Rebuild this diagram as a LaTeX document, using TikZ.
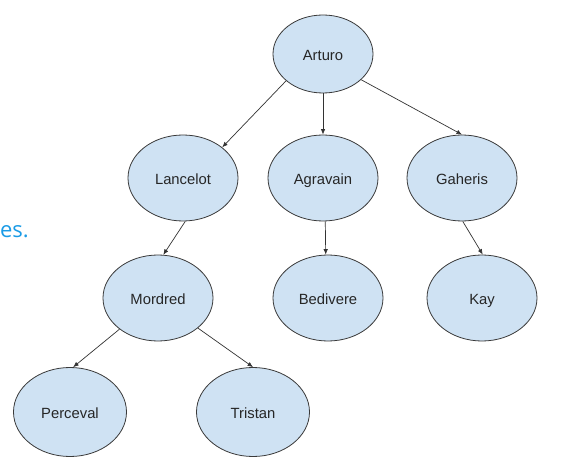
\documentclass[tikz,border=0pt]{standalone}
\usepackage{fontspec}
\setmainfont{Liberation Sans}
\newfontfamily\docfont{Open Sans}
\usetikzlibrary{shapes.geometric,arrows.meta}
\definecolor{nodefill}{HTML}{CFE2F3}
\definecolor{nodeline}{HTML}{3A3A3A}
\definecolor{edgeline}{HTML}{333333}
\definecolor{docblue}{HTML}{1A9BE6}
\tikzset{
  tnode/.style={ellipse, draw=nodeline, line width=0.8pt, fill=nodefill,
    minimum width=110pt, minimum height=86pt, inner sep=0pt,
    text height=16pt, text depth=3pt,
    font=\fontsize{14.8}{17}\selectfont, text=black!85},
  rootnode/.style={tnode, minimum width=100pt, minimum height=78pt},
  leafnode/.style={tnode, minimum width=113pt, minimum height=89pt},
  edge/.style={draw=edgeline, line width=0.7pt, -{Latex[length=5.5pt,width=4.5pt]}}
}
\begin{document}
\begin{tikzpicture}[x=1pt,y=-1pt]
\useasboundingbox (0,0) rectangle (562,462);
\clip (0,0) rectangle (562,462);
\fill[white] (0,0) rectangle (562,462);
\node[anchor=base east, text=docblue, font=\docfont\fontsize{22}{26}\selectfont, inner sep=0pt] (es) at (29,238) {es.};

\node[rootnode] (arturo) at (323,54) {Arturo};
\node[tnode] (lancelot) at (183,178) {Lancelot};
\node[tnode] (agravain) at (323,178) {Agravain};
\node[tnode] (gaheris) at (462,178) {Gaheris};
\node[tnode] (mordred) at (158,298) {Mordred};
\node[tnode] (bedivere) at (328,298) {Bedivere};
\node[tnode] (kay) at (482,298) {Kay};
\node[leafnode] (perceval) at (70,412) {Perceval};
\node[leafnode] (tristan) at (253,412) {Tristan};

\draw[edge] (arturo.216) -- (lancelot.38);
\draw[edge] (arturo.270) -- (agravain.90);
\draw[edge] (arturo.326) -- (gaheris.90);
\draw[edge] (lancelot.273) -- (mordred.83);
\draw[edge] (agravain.273) -- (bedivere.93);
\draw[edge] (gaheris.271) -- (kay.89);
\draw[edge] (mordred.219) -- (perceval.86);
\draw[edge] (mordred.323) -- (tristan.90);
\end{tikzpicture}
\end{document}
